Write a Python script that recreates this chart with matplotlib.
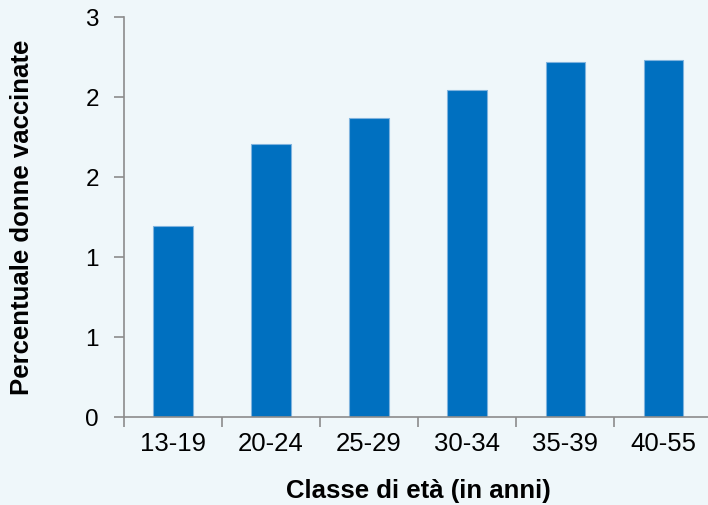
import numpy as np
import matplotlib.pyplot as plt
from matplotlib.ticker import FuncFormatter

plt.rcParams['font.family'] = ['Liberation Sans', 'DejaVu Sans']

# percentuale di donne vaccinate per classe di età
classi = ["13-19", "20-24", "25-29", "30-34", "35-39", "40-55"]
percentuali = [1.435, 2.05, 2.245, 2.45, 2.66, 2.675]
y_ticks = [0, 0.6, 1.2, 1.8, 2.4, 3.0]

bg = "#EFF7FA"
axis_grey = "#8C8C8C"

fig = plt.figure(figsize=(7.08, 5.05), dpi=100, facecolor=bg)
ax = fig.add_axes([0.175, 0.174, 0.831, 0.792])
ax.set_facecolor(bg)

x = np.arange(len(classi))
ax.bar(x, percentuali, width=0.4, color="#0070C0", edgecolor="#7FB3DE", linewidth=0.8)

ax.set_xlim(-0.5, len(classi) - 0.5)
ax.set_ylim(0, 3)

# etichette centrate, tacche tra le categorie
ax.set_xticks(x)
ax.set_xticklabels(classi, fontsize=18.5)
ax.set_xticks(np.arange(-0.5, len(classi)), minor=True)
ax.tick_params(axis="x", which="major", length=0, pad=11)
ax.tick_params(axis="x", which="minor", length=7, width=1.2, color=axis_grey, direction="out")

ax.set_yticks(y_ticks)
ax.yaxis.set_major_formatter(FuncFormatter(lambda v, p: f"{v:.0f}"))
ax.tick_params(axis="y", length=7, width=1.2, color=axis_grey, labelsize=17.5, pad=11)

for side in ["top", "right"]:
    ax.spines[side].set_visible(False)
for side in ["left", "bottom"]:
    ax.spines[side].set_color(axis_grey)
    ax.spines[side].set_linewidth(1.2)

ax.set_xlabel("Classe di età (in anni)", fontsize=18.5, fontweight="bold", labelpad=16)
ax.set_ylabel("Percentuale donne vaccinate", fontsize=18.5, fontweight="bold")
ax.yaxis.set_label_coords(-0.152, 0.5)

fig.savefig("out.png", dpi=100, facecolor=bg)
